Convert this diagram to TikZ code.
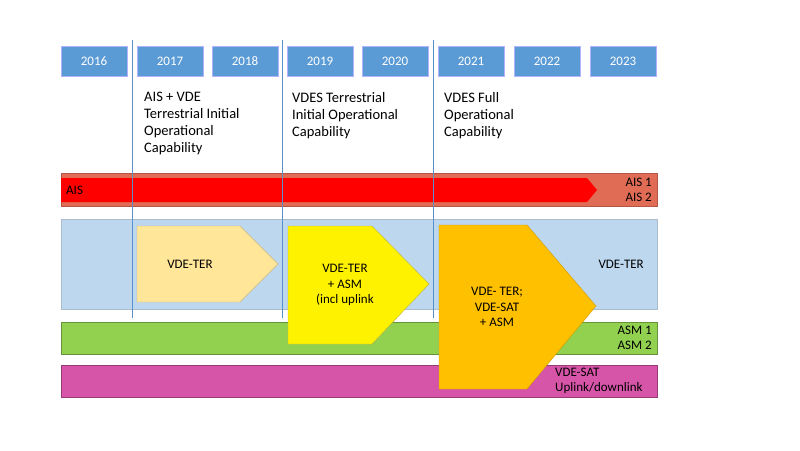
\documentclass[tikz,border=0pt]{standalone}
\usepackage{fontspec}
\setmainfont{Carlito}
\begin{document}
\begin{tikzpicture}[x=1pt,y=-1pt,
 yr/.style={draw=blue!30!white,fill=yb,text=white,minimum width=66pt,minimum height=30pt,inner sep=0pt,font=\fontsize{13}{13}\selectfont},
 band/.style={line width=0.6pt},
 lab/.style={font=\fontsize{13}{15.5}\selectfont,inner sep=0pt},
 hd/.style={font=\fontsize{14.5}{17}\selectfont,align=left,anchor=north west,inner sep=0pt},
 vl/.style={draw=vlc,line width=0.8pt}]
\definecolor{yb}{HTML}{5B9BD5}
\definecolor{vlc}{HTML}{5B8FC8}
\definecolor{aisb}{HTML}{E06C55}
\definecolor{lb}{HTML}{BDD7EE}
\definecolor{gb}{HTML}{92D050}
\definecolor{mb}{HTML}{D655A8}
\definecolor{p1}{HTML}{FFE699}
\definecolor{p3}{HTML}{FFC000}
\useasboundingbox (0,0) rectangle (800,450);
\fill[white] (0,0) rectangle (800,450);
\foreach \x/\y in {94/2016,170/2017,245/2018,320/2019,395/2020,471/2021,547/2022,623/2023}
 \node[yr] (y\y) at (\x,61) {\y};
% bands
\draw[band,fill=aisb,draw=aisb!80!black] (61,173) rectangle (657,206);
\fill[red] (61,178) -- (587,178) -- (597,190) -- (587,202) -- (61,202) -- cycle;
\node[lab,anchor=west] (ais) at (66,190) {AIS};
\node[lab,anchor=east,align=right] (ais12) at (652,190) {AIS 1\\AIS 2};
\draw[band,fill=lb,draw=lb!70!gray] (61,219) rectangle (657,309);
\node[lab,anchor=east] (vter) at (644,264) {VDE-TER};
\draw[band,fill=gb,draw=gb!70!black] (61,322) rectangle (657,354);
\node[lab,anchor=east,align=right] (asm) at (652,338) {ASM 1\\ASM 2};
\draw[band,fill=mb,draw=mb!70!black] (61,365) rectangle (657,397);
\node[lab,anchor=west,align=left] (vsat) at (555,381) {VDE-SAT\\Uplink/downlink};
% vertical lines
\coordinate (t1) at (132,40); \coordinate (b1) at (132,318);
\coordinate (t2) at (282,40); \coordinate (b2) at (282,318);
\coordinate (t3) at (433,40); \coordinate (b3) at (433,318);
\draw[vl] (t1)--(b1); \draw[vl] (t2)--(b2); \draw[vl] (t3)--(b3);
% pentagons
\draw[fill=p1,draw=p1!80!black,line width=0.4pt] (137,226) -- (240,226) -- (278,264) -- (240,302) -- (137,302) -- cycle;
\node[lab] (n1) at (190,264) {VDE-TER};
\draw[fill=yellow,draw=yellow!70!black,line width=0.4pt] (288,226) -- (372,226) -- (429,284) -- (372,344) -- (288,344) -- cycle;
\node[lab,align=center] (n2) at (345,285) {VDE-TER\\+ ASM\\(incl uplink};
\draw[fill=p3,draw=p3!80!black,line width=0.4pt] (439,225) -- (527,225) -- (596,306) -- (527,389) -- (439,389) -- cycle;
\node[lab,align=center] (n3) at (497,307) {VDE- TER;\\VDE-SAT\\+ ASM};
% headings
\node[hd] (h1) at (144,92) {AIS + VDE\\Terrestrial Initial\\Operational\\Capability};
\node[hd] (h2) at (292,92) {VDES Terrestrial\\Initial Operational\\Capability};
\node[hd] (h3) at (444,92) {VDES Full\\Operational\\Capability};
\end{tikzpicture}
\end{document}
